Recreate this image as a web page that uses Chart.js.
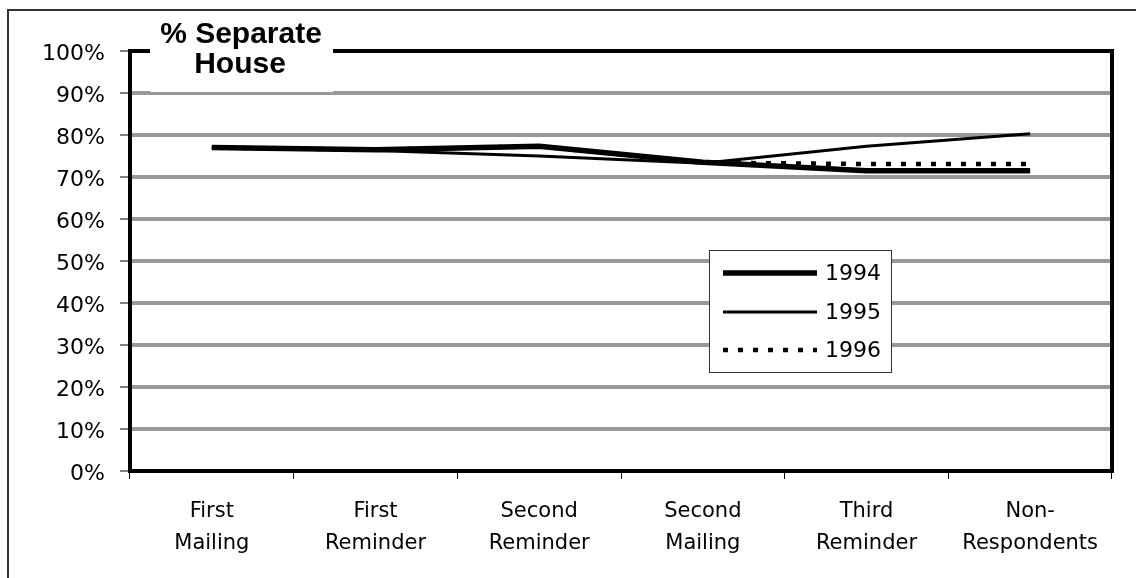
<!DOCTYPE html>
<html>
<head>
<meta charset="utf-8">
<title>% Separate House</title>
<script src="https://cdn.jsdelivr.net/npm/chart.js@4"></script>
<style>
    body { margin: 0; background: #fff; }
    #wrap { width: 1136px; height: 578px; position: relative; }
</style>
</head>
<body>
<div id="wrap"><canvas id="chart"></canvas></div>
<script>
// Chart data
const stages = [
    ['First', 'Mailing'],
    ['First', 'Reminder'],
    ['Second', 'Reminder'],
    ['Second', 'Mailing'],
    ['Third', 'Reminder'],
    ['Non-', 'Respondents']
];
const years = ['1994', '1995', '1996'];
const pct1994 = [77.0, 76.5, 77.3, 73.5, 71.5, 71.5];
const pct1995 = [77.0, 76.3, 75.0, 73.3, 77.3, 80.3];
const pct1996 = [77.0, 76.5, 77.3, 73.4, 73.1, 73.1];
const yTicks = [0, 10, 20, 30, 40, 50, 60, 70, 80, 90, 100];
const titleLines = ['% Separate', 'House'];

Chart.defaults.font.family = "'DejaVu Sans', sans-serif";
Chart.defaults.color = '#000';

// Frame, title box and legend box drawn on top of the chart
const decorations = {
    id: 'decorations',
    afterDraw(chart) {
        const c = chart.ctx;
        const a = chart.chartArea;
        c.save();

        // outer frame (top and left edges)
        c.strokeStyle = '#333';
        c.lineWidth = 2;
        c.beginPath();
        c.moveTo(8, 578);
        c.lineTo(8, 10);
        c.lineTo(1136, 10);
        c.stroke();

        // plot area border
        c.strokeStyle = '#000';
        c.lineWidth = 4;
        c.strokeRect(a.left, a.top, a.right - a.left, a.bottom - a.top);

        // title box
        c.fillStyle = '#fff';
        c.fillRect(150, 12, 183, 80);
        c.fillStyle = '#000';
        c.font = "bold 30px 'Liberation Sans', Arial, sans-serif";
        c.textAlign = 'center';
        c.textBaseline = 'alphabetic';
        c.fillText(titleLines[0], 241, 43);
        c.fillText(titleLines[1], 240, 73);

        // legend box
        const lx = 709.5, ly = 250.5, lw = 182, lh = 122;
        c.fillStyle = '#fff';
        c.fillRect(lx, ly, lw, lh);
        c.strokeStyle = '#333';
        c.lineWidth = 1;
        c.strokeRect(lx, ly, lw, lh);

        const rows = [273, 312, 350];
        chart.data.datasets.forEach((ds, i) => {
            const y = rows[i];
            c.strokeStyle = ds.borderColor;
            c.lineWidth = ds.borderWidth;
            c.lineCap = 'butt';
            c.setLineDash(ds.borderDash || []);
            c.beginPath();
            c.moveTo(723, y);
            c.lineTo(817, y);
            c.stroke();
            c.setLineDash([]);
            c.fillStyle = '#000';
            c.font = "22px 'DejaVu Sans', sans-serif";
            c.textAlign = 'left';
            c.textBaseline = 'middle';
            c.fillText(ds.label, 825, y + 1);
        });

        c.restore();
    }
};

const ctx = document.getElementById('chart').getContext('2d');
const chart = new Chart(ctx, {
    type: 'line',
    data: {
        labels: stages,
        datasets: [{
            label: years[0],
            data: pct1994,
            borderColor: '#000',
            borderWidth: 5.5,
            pointRadius: 0,
            tension: 0
        }, {
            label: years[1],
            data: pct1995,
            borderColor: '#000',
            borderWidth: 3,
            pointRadius: 0,
            tension: 0
        }, {
            label: years[2],
            data: pct1996,
            borderColor: '#000',
            borderWidth: 4.5,
            borderDash: [5, 10],
            borderCapStyle: 'butt',
            pointRadius: 0,
            tension: 0
        }]
    },
    options: {
        responsive: true,
        maintainAspectRatio: false,
        animation: false,
        layout: {
            padding: { left: 0, top: 51, right: 24, bottom: 0 }
        },
        plugins: {
            legend: { display: false },
            title: { display: false },
            tooltip: { enabled: false }
        },
        scales: {
            x: {
                offset: true,
                border: { display: false },
                grid: {
                    offset: true,
                    drawOnChartArea: false,
                    tickLength: 8,
                    tickColor: '#000',
                    tickWidth: 1,
                    lineWidth: 1
                },
                ticks: {
                    padding: 17,
                    font: { size: 21, lineHeight: 1.524 },
                    color: '#000',
                    maxRotation: 0,
                    autoSkip: false
                },
                afterFit(scale) { scale.height = 107; }
            },
            y: {
                min: 0,
                max: 100,
                border: { display: false },
                grid: {
                    color: '#999',
                    lineWidth: 4,
                    tickLength: 10,
                    tickColor: '#000',
                    tickWidth: 1
                },
                ticks: {
                    stepSize: 10,
                    padding: 15,
                    labelOffset: 3,
                    font: { size: 22 },
                    color: '#000',
                    callback: v => yTicks.includes(v) ? v + '%' : ''
                },
                afterFit(scale) { scale.width = 130; }
            }
        }
    },
    plugins: [decorations]
});
</script>
</body>
</html>
